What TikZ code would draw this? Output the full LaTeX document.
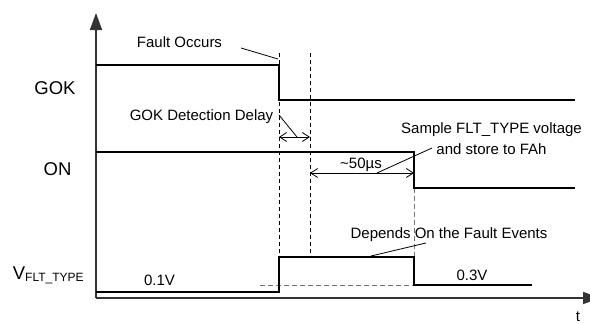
\documentclass[tikz,border=0pt]{standalone}
\usepackage{fontspec}
\setmainfont{Liberation Sans}
\usetikzlibrary{arrows.meta}
\begin{document}
\begin{tikzpicture}[x=1pt,y=-1pt,
  sig/.style={line width=2pt, black},
  axis/.style={line width=1.6pt, black!80},
  guide/.style={line width=0.9pt, dash pattern=on 4pt off 3pt},
  gguide/.style={line width=1pt, black!55, dash pattern=on 5pt off 3pt},
  leader/.style={line width=0.8pt},
  dimarrow/.style={line width=0.8pt, {Straight Barb[length=7pt,width=9pt]}-{Straight Barb[length=7pt,width=9pt]}},
  lbl/.style={font=\fontsize{15}{17}\selectfont, inner sep=0pt, anchor=base},
  big/.style={font=\fontsize{18.5}{20}\selectfont, inner sep=0pt, anchor=base}]
\useasboundingbox (0,0) rectangle (590,324);
% axes
\coordinate (O) at (96,298);
\coordinate (ytop) at (96,13);
\coordinate (xend) at (600,298);
\draw[axis, -{Triangle[length=17pt,width=12pt]}] (O) -- (ytop);
\draw[axis, -{Triangle[length=17pt,width=12pt]}] (O) -- (xend);
% guides
\coordinate (g1t) at (279,53); \coordinate (g1b) at (279,257);
\coordinate (g2t) at (310,53); \coordinate (g2b) at (310,257);
\draw[guide] (g1t) -- (g1b);
\draw[guide] (g2t) -- (g2b);
\coordinate (g3t) at (414,188); \coordinate (g3b) at (414,257);
\draw[gguide] (g3t) -- (g3b);
\coordinate (h1) at (260,285); \coordinate (h2) at (414,285);
\draw[gguide] (h1) -- (h2);
% signals
\draw[sig] (96,65) -- (279,65) -- (279,100) -- (575,100);
\draw[sig] (96,152) -- (414,152) -- (414,188) -- (575,188);
\draw[sig] (96,292) -- (279,292) -- (279,257) -- (414,257) -- (414,285) -- (532,285);
% dimension arrows
\coordinate (d1a) at (279,137); \coordinate (d1b) at (310,137);
\draw[dimarrow] (d1a) -- (d1b);
\coordinate (d2a) at (310,173); \coordinate (d2b) at (414,173);
\draw[dimarrow] (d2a) -- (d2b);
% labels
\node[lbl] (fault) at (179.5,47.7) {Fault Occurs};
\node[lbl] (gokdd) at (201.5,120.7) {GOK Detection Delay};
\node[big] (gok) at (55,94.3) {GOK};
\node[big] (on) at (57.5,175) {ON};
\node[big, anchor=base west] (vflt) at (12.7,279) {V\raisebox{-2pt}{\fontsize{12}{13}\selectfont FLT\_TYPE}};
\node[lbl] (v01) at (159.5,285.7) {0.1V};
\node[lbl] (v03) at (472,280) {0.3V};
\node[lbl] (dep) at (449,238.3) {Depends On the Fault Events};
\node[lbl] (us) at (361,168.3) {\textasciitilde 50µs};
\node[lbl] (samp1) at (491.5,133.5) {Sample FLT\_TYPE voltage};
\node[lbl] (samp2) at (491.5,154) {and store to FAh};
\node[lbl] (t) at (578,321.5) {t};
% leaders
\coordinate (lf1) at (241,48); \coordinate (lf2) at (278,59);
\draw[leader] (lf1) -- (lf2);
\coordinate (ld1) at (279,115); \coordinate (ld2) at (297,137);
\draw[leader] (ld1) -- (ld2);
\coordinate (ls1) at (377,173); \coordinate (ls2) at (432,148);
\draw[leader] (ls1) -- (ls2);
\coordinate (le1) at (371,256); \coordinate (le2) at (426,243);
\draw[leader] (le1) -- (le2);
\end{tikzpicture}
\end{document}
